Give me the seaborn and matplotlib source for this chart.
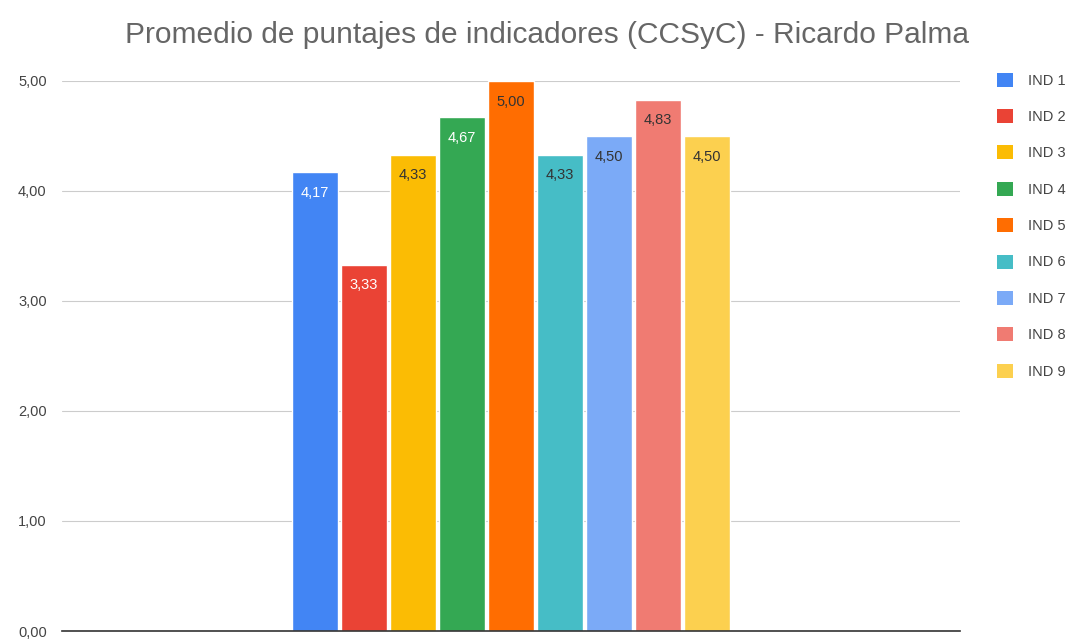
import pandas as pd
import matplotlib.pyplot as plt
import seaborn as sns
from matplotlib.patches import Patch

indicadores = ["IND 1", "IND 2", "IND 3", "IND 4", "IND 5", "IND 6", "IND 7", "IND 8", "IND 9"]
puntajes = [4.17, 3.33, 4.33, 4.67, 5.00, 4.33, 4.50, 4.83, 4.50]
colores = ["#4285F4", "#EA4335", "#FBBC04", "#34A853", "#FF6D01",
           "#46BDC6", "#7BAAF7", "#F07B72", "#FCD04F"]
color_texto = ["white", "white", "#333333", "white", "#333333",
               "#333333", "#333333", "#333333", "#333333"]
y_ticks = [0, 1, 2, 3, 4, 5]

df = pd.DataFrame({"grupo": ["Ricardo Palma"] * len(indicadores),
                   "indicador": indicadores,
                   "puntaje": puntajes})

sns.set_theme(style="white")
plt.rcParams['font.family'] = ['Liberation Sans', 'DejaVu Sans']

fig = plt.figure(figsize=(10.78, 6.39), dpi=100)
ax = fig.add_axes([0.0575, 0.0125, 0.833, 0.861])

sns.barplot(data=df, x="grupo", y="puntaje", hue="indicador",
            palette=colores, width=0.491, gap=0.06, legend=False,
            saturation=1, ax=ax)

for cont, col in zip(ax.containers, color_texto):
    ax.bar_label(cont, labels=[f"{v:.2f}".replace(".", ",") for v in cont.datavalues],
                 padding=-20, color=col, fontsize=10.5)

ax.set_ylim(0, 5)
ax.set_xlim(-0.5, 0.5)
ax.set_yticks(y_ticks)
ax.set_yticklabels([f"{t},00" for t in y_ticks], fontsize=10.5, color="#444444")
ax.set_xticks([])
ax.set_xlabel("")
ax.set_ylabel("")
ax.tick_params(axis="y", length=0, pad=11)
ax.grid(axis="y", color="#cccccc", linewidth=0.8)
ax.set_axisbelow(True)
for s in ["top", "right", "left"]:
    ax.spines[s].set_visible(False)
ax.spines["bottom"].set_color("#333333")
ax.spines["bottom"].set_linewidth(1.2)

handles = [Patch(facecolor=c, edgecolor="none") for c in colores]
fig.legend(handles, indicadores, loc="upper left", bbox_to_anchor=(0.913, 0.907),
           frameon=False, fontsize=10.5, handlelength=1.1, handleheight=1.1,
           labelspacing=1.47, handletextpad=1.0, labelcolor="#444444")

fig.suptitle("Promedio de puntajes de indicadores (CCSyC) - Ricardo Palma",
             x=0.507, y=0.967, fontsize=21.5, color="#666666")

fig.savefig("out.png", dpi=100, facecolor="white")
